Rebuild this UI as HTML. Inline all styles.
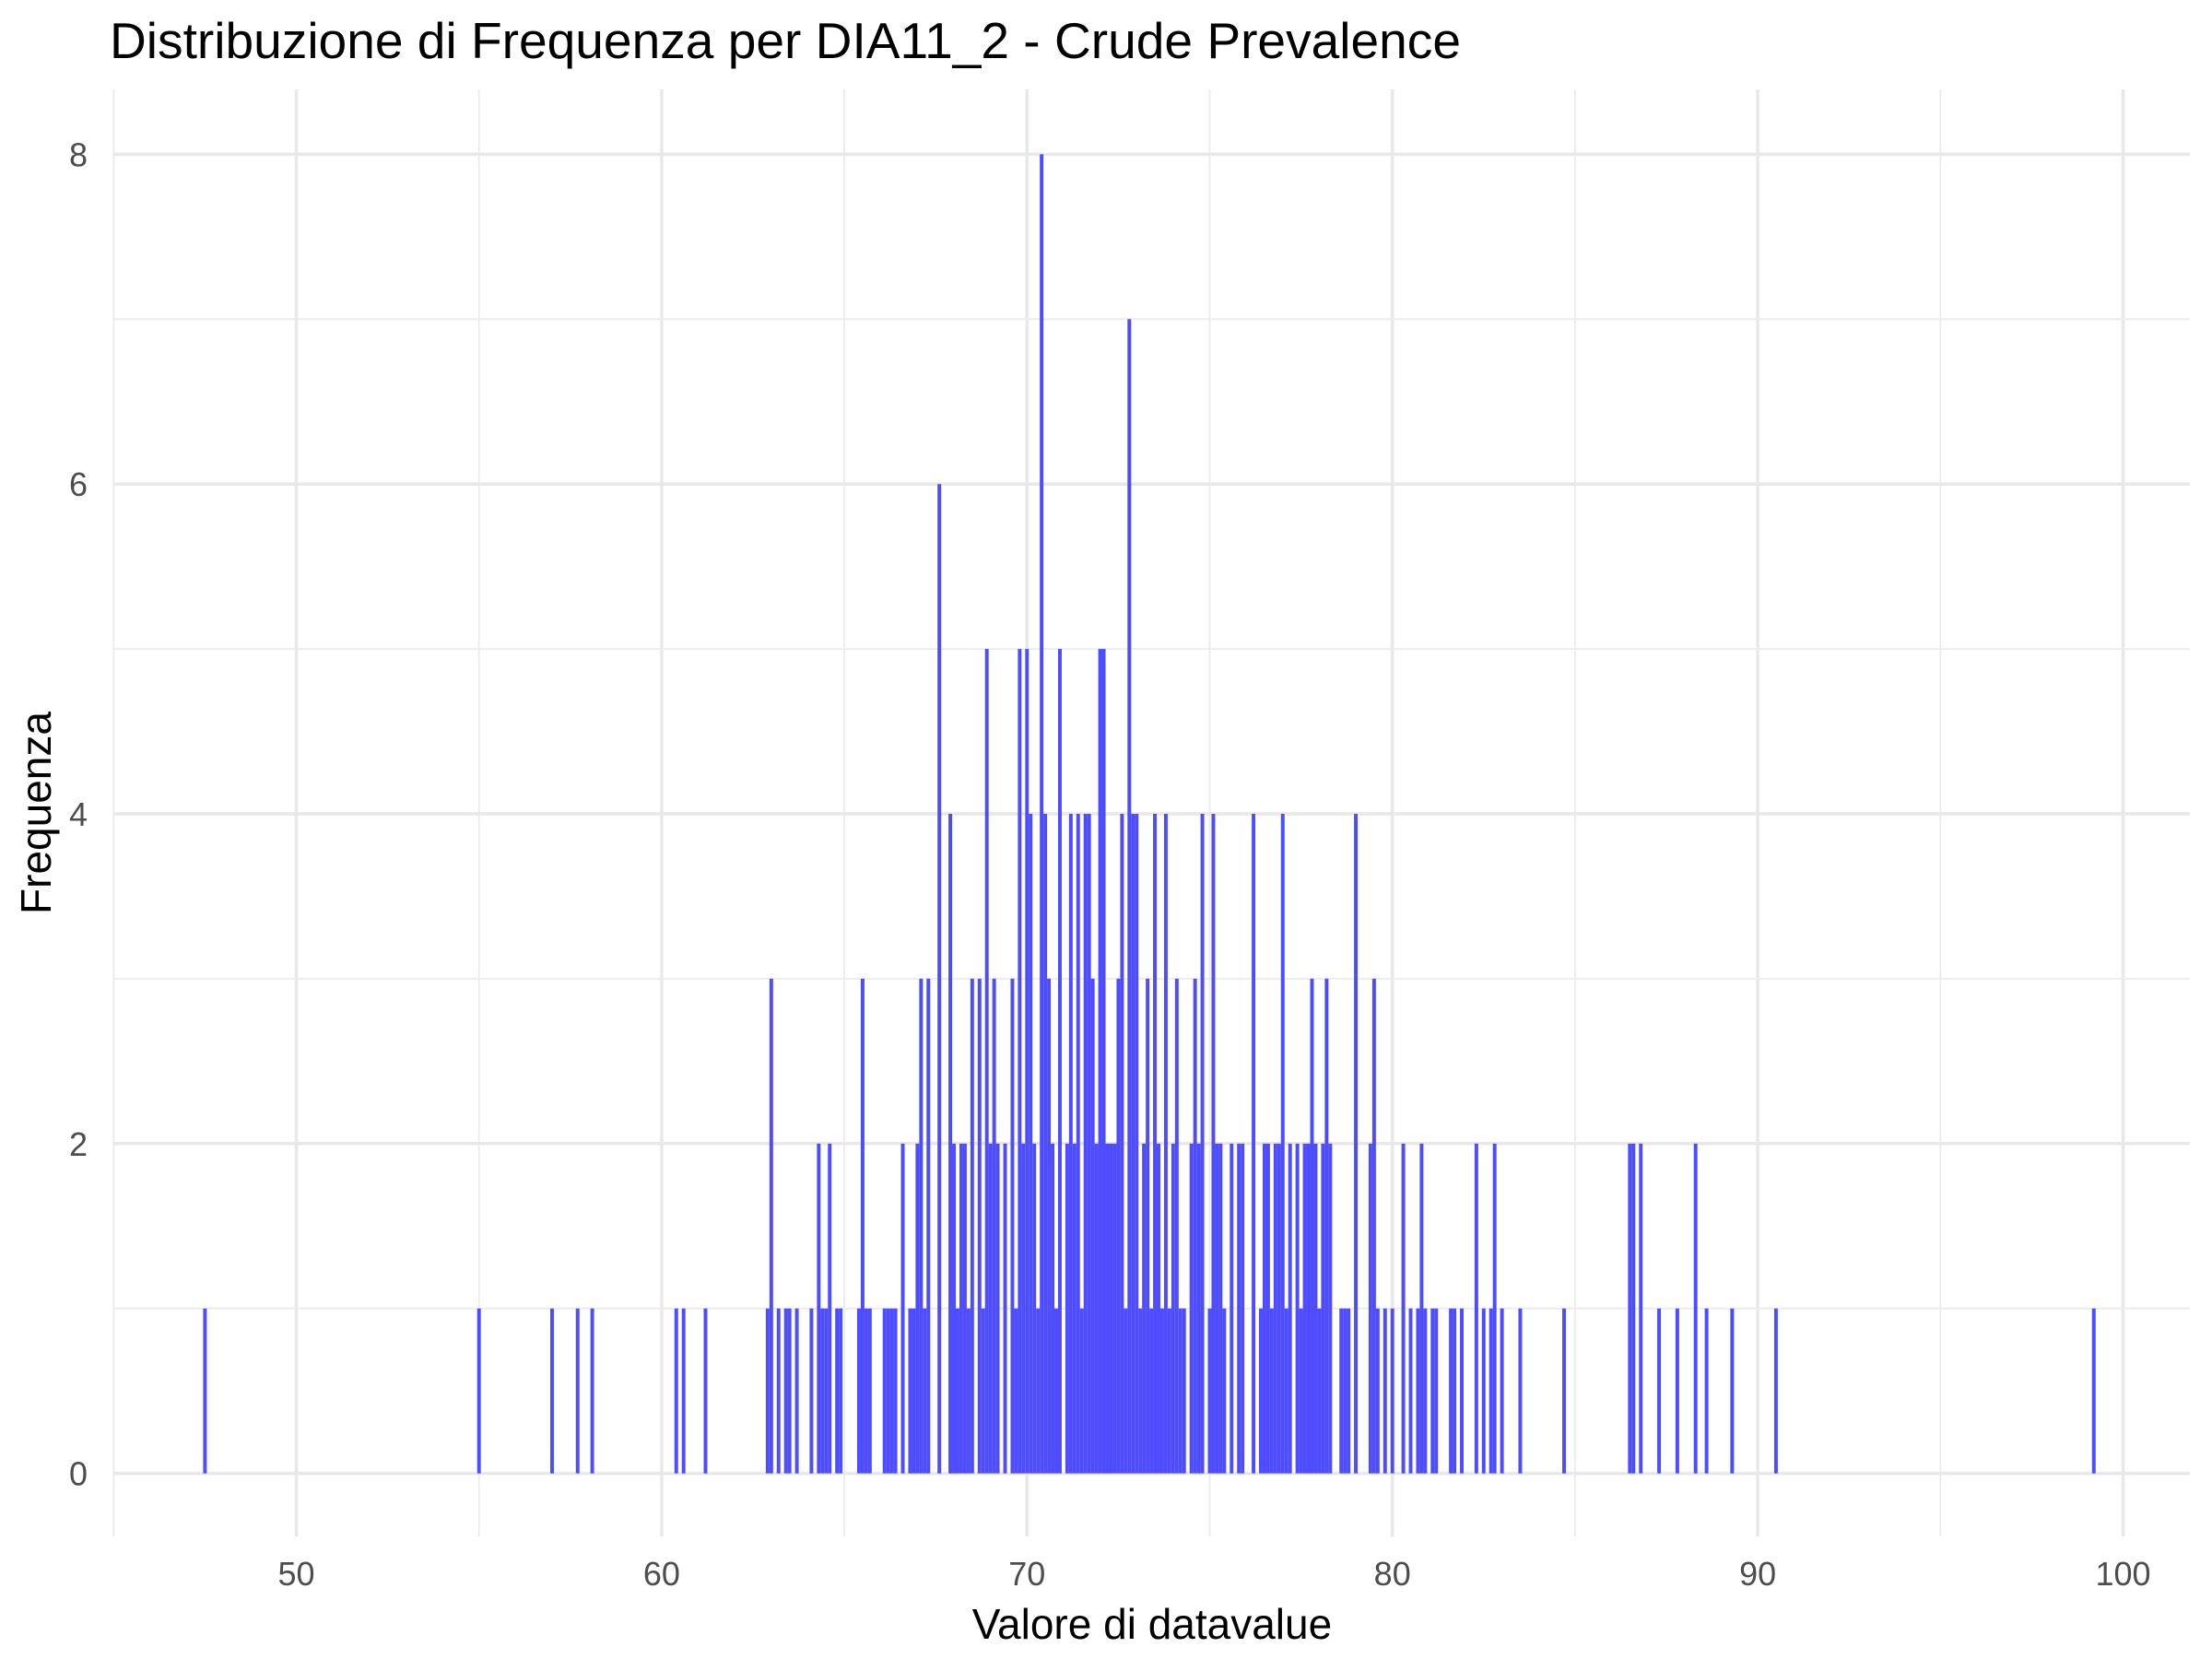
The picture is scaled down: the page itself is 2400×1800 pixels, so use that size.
<!DOCTYPE html>
<html><head><meta charset="utf-8"><style>
html,body{margin:0;padding:0;background:#fff}
svg{display:block}
text{font-family:"Liberation Sans",Arial,sans-serif}
</style></head><body>
<svg id="chart" width="2400" height="1800" viewBox="0 0 2400 1800" xmlns="http://www.w3.org/2000/svg">
<rect width="2400" height="1800" fill="#fff"/>
<g id="grid"></g>
<g id="bars"></g>
<g id="xticks"></g>
<g id="yticks"></g>
<text x="119" y="63" font-size="55" fill="#000" textLength="1466" lengthAdjust="spacingAndGlyphs">Distribuzione di Frequenza per DIA11_2 - Crude Prevalence</text>
<text x="1250" y="1778" font-size="46" fill="#000" text-anchor="middle">Valore di datavalue</text>
<text transform="translate(55,882) rotate(-90)" font-size="46" fill="#000" text-anchor="middle">Frequenza</text>
</svg>
<script>
const binValues = [47.5,55.0,57.0,57.7,58.1,60.4,60.6,61.2,
62.9,63.0,63.2,63.4,63.5,63.7,64.1,64.3,64.4,64.5,64.6,64.8,64.9,65.4,65.5,65.6,65.7,66.1,66.2,66.3,66.4,66.6,66.8,66.9,67.0,67.1,67.2,67.3,67.6,67.9,68.0,68.1,68.2,68.3,68.4,68.5,68.7,68.8,68.9,69.0,69.1,69.2,69.4,69.6,69.7,69.8,69.9,
70.0,70.1,70.2,70.3,70.4,70.5,70.6,70.7,70.8,70.9,71.1,71.2,71.3,71.4,71.5,71.6,71.7,71.8,71.9,72.0,72.1,72.2,72.3,72.4,72.5,72.6,72.7,72.8,72.9,73.0,73.1,73.2,73.3,73.4,73.5,73.6,73.7,73.8,73.9,74.0,74.1,74.2,74.3,74.5,74.6,74.7,74.8,75.0,75.1,75.2,75.3,75.4,75.6,75.8,75.9,76.2,76.4,76.5,76.6,76.7,76.8,76.9,77.0,
77.1,77.2,77.4,77.5,77.6,77.7,77.8,77.9,78.0,78.1,78.2,78.3,78.6,78.7,78.8,79.0,79.4,79.5,79.6,79.8,80.0,80.3,80.5,80.7,80.8,80.9,81.1,81.2,81.6,81.7,81.9,82.3,82.5,82.7,82.8,83.0,83.5,
84.7,86.5,86.6,86.8,87.3,87.8,88.3,88.6,89.3,90.5,99.2];
const binCounts = [1,1,1,1,1,1,1,1,
1,3,1,1,1,1,1,2,1,1,2,1,1,1,3,1,1,1,1,1,1,2,1,1,2,3,1,3,6,4,2,1,2,2,1,3,3,1,5,2,3,2,2,3,1,5,2,
5,4,2,1,8,4,3,2,1,5,2,4,2,4,1,4,4,3,2,5,5,2,2,2,3,4,1,7,4,4,1,2,3,1,4,2,1,4,1,2,3,1,1,2,3,2,4,1,4,2,2,1,2,2,2,4,1,2,2,1,2,2,4,
1,2,2,1,2,2,3,2,1,2,3,2,1,1,1,4,2,3,1,1,1,2,1,1,2,1,1,1,1,1,1,2,1,1,2,1,1,
1,2,2,2,1,1,2,1,1,1,1];
const xTicks = [50,60,70,80,90,100];
const yTicks = [0,2,4,6,8];
const binWidth = 0.1;

const NS = 'http://www.w3.org/2000/svg';
const X0 = 321.5, PXU = 39.64;
const Y0 = 1598.6, PXC = 178.9;
const xs = v => X0 + (v - 50) * PXU;
const ys = c => Y0 - c * PXC;
const L = 123, R = 2376, T = 97, B = 1667;
function mk(tag, attrs, parent){const e=document.createElementNS(NS,tag);for(const k in attrs)e.setAttribute(k,attrs[k]);parent.appendChild(e);return e;}
const grid=document.getElementById('grid');
for(let i=0;i<xTicks.length;i++){
  const v=xTicks[i];
  const g=mk('line',{x1:xs(v),x2:xs(v),y1:T,y2:B,stroke:'#e8e8e8','stroke-width':3.5},grid);
  
  
}
for(let v=45;v<=105;v+=10){
  const g=mk('line',{x1:xs(v),x2:xs(v),y1:T,y2:B,stroke:'#ebebeb','stroke-width':1.8},grid);
  
  
}
for(let i=0;i<yTicks.length;i++){
  const c=yTicks[i];
  const g=mk('line',{x1:L,x2:R,y1:ys(c),y2:ys(c),stroke:'#e8e8e8','stroke-width':3.5},grid);
  
  
  const m=mk('line',{x1:L,x2:R,y1:ys(c+1),y2:ys(c+1),stroke:'#ebebeb','stroke-width':1.8},grid);
  
  
}
const bars=document.getElementById('bars');
for(let i=0;i<binValues.length;i++){
  const v=binValues[i], c=binCounts[i];
  const r=mk('rect',{x:xs(v-binWidth/2),y:ys(c),width:PXU*binWidth,height:ys(0)-ys(c),fill:'#4d4dff'},bars);
  
  
}
const xt=document.getElementById('xticks');
for(let i=0;i<xTicks.length;i++){
  const t=mk('text',{x:xs(xTicks[i]),y:1720,'font-size':36,fill:'#4d4d4d','text-anchor':'middle'},xt);
  t.textContent=xTicks[i];
  
  
}
const yt=document.getElementById('yticks');
for(let i=0;i<yTicks.length;i++){
  const t=mk('text',{x:95,y:ys(yTicks[i])+13,'font-size':36,fill:'#4d4d4d','text-anchor':'end'},yt);
  t.textContent=yTicks[i];
  
  
}
</script>
</body></html>
